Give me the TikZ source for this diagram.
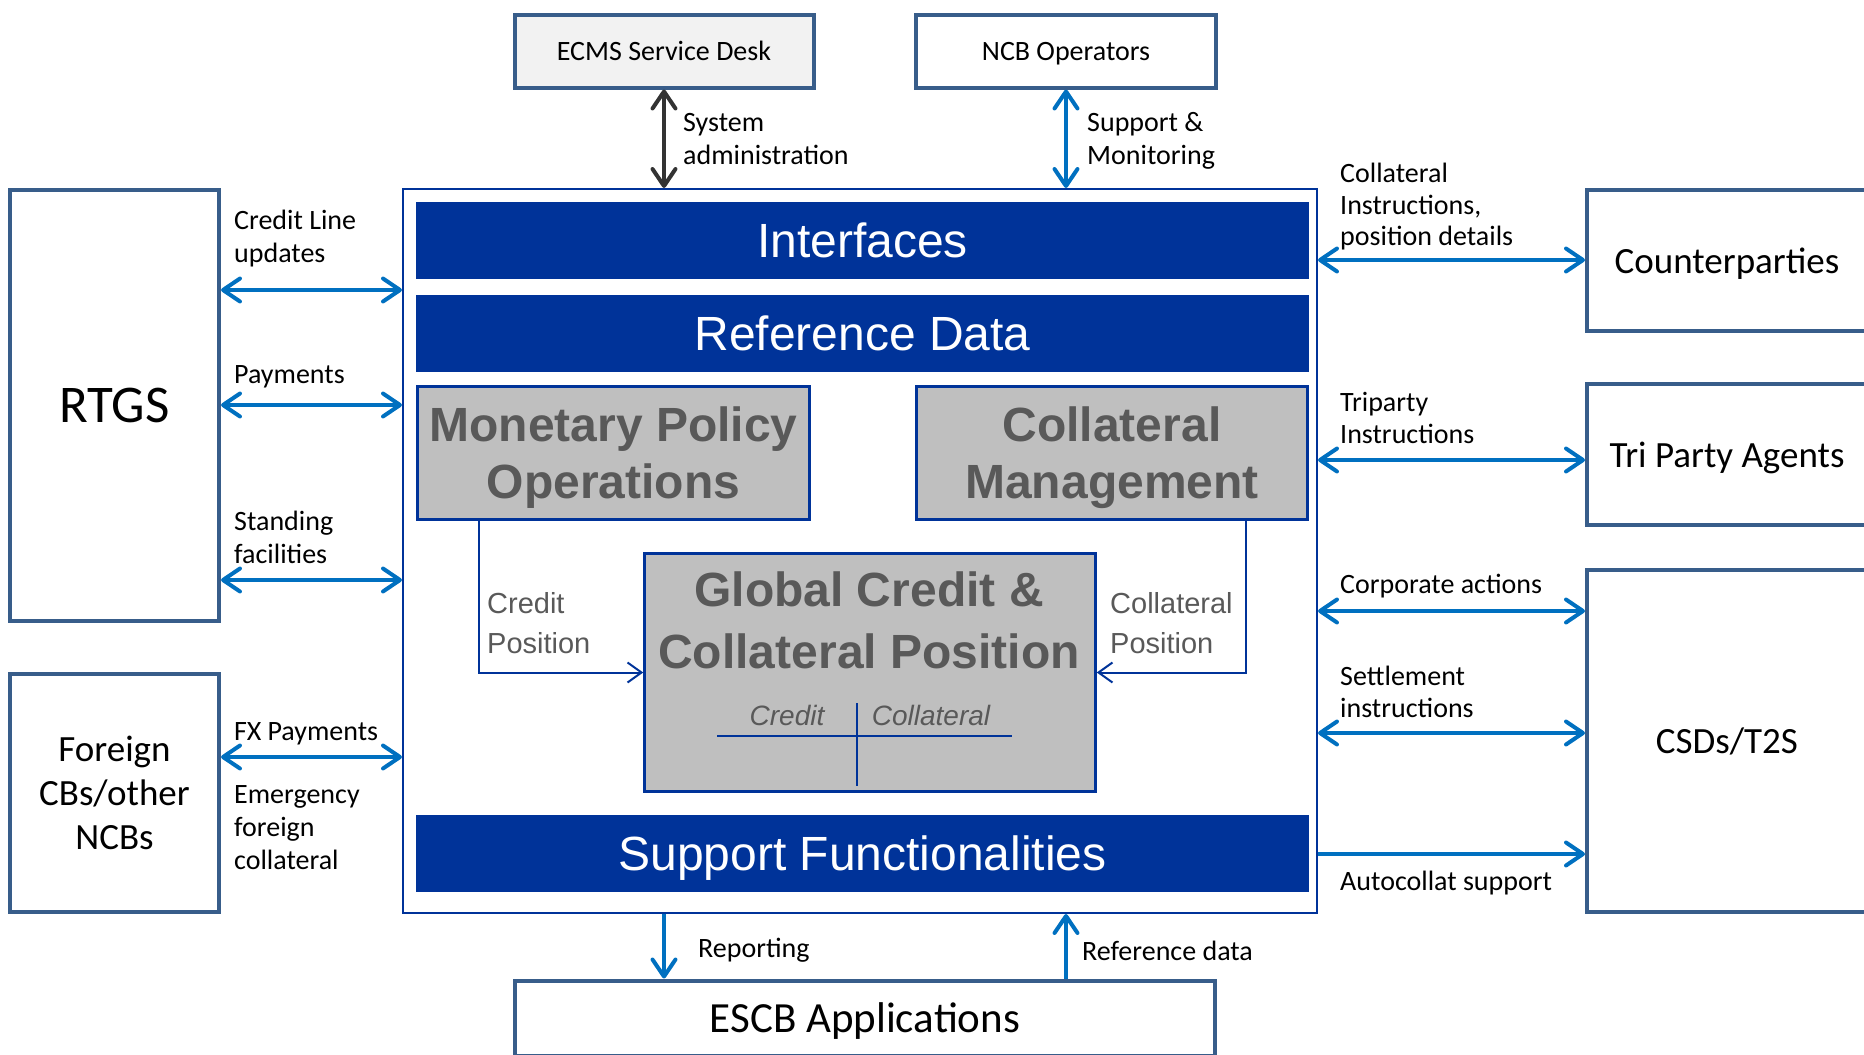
\documentclass[tikz,border=0pt]{standalone}
\usepackage{fontspec}
\setmainfont{Carlito}
\newfontfamily\arialfont{Liberation Sans}
\usetikzlibrary{arrows.meta}
\definecolor{navy}{RGB}{0,51,153}
\definecolor{steel}{RGB}{56,93,138}
\definecolor{linkblue}{RGB}{0,112,192}
\definecolor{greytext}{RGB}{89,89,89}
\definecolor{greyfill}{RGB}{191,191,191}

\begin{document}
\begin{tikzpicture}[x=1pt,y=-1pt,
    >={Straight Barb[length=17pt,width=23pt,round]},
    ext/.style={draw=steel,line width=4pt,fill=white,inner sep=0pt,text depth=0pt,align=center,font=\fontsize{37}{44}\selectfont},
    bar/.style={fill=navy,text=white,inner sep=0pt,text depth=0pt,minimum width=893pt,minimum height=77pt,font=\arialfont\fontsize{48}{56}\selectfont},
    module/.style={draw=navy,line width=2.5pt,fill=greyfill,text=greytext,inner sep=0pt,text depth=0pt,align=center,font=\arialfont\bfseries\fontsize{48}{57}\selectfont},
    flow/.style={linkblue,line width=4pt},
    posflow/.style={navy,line width=2pt,>={Straight Barb[length=14pt,width=20pt]}},
    lbl/.style={anchor=west,inner sep=0pt,align=left,font=\fontsize{28}{33}\selectfont},
    lblr/.style={lbl,font=\fontsize{28}{31.5}\selectfont},
    poslbl/.style={anchor=west,inner sep=0pt,align=left,text=greytext,font=\arialfont\fontsize{29}{40}\selectfont}]
  \useasboundingbox (0,0) rectangle (1864,1055);

  \node[ext,fill=black!5,minimum width=299pt,minimum height=73pt,font=\fontsize{28}{33}\selectfont] (ecms) at (664,51) {ECMS Service Desk};
  \node[ext,minimum width=300pt,minimum height=73pt,font=\fontsize{28}{33}\selectfont] (ncb) at (1066,51) {NCB Operators};
  \node[draw=navy,line width=2pt,minimum width=914pt,minimum height=724pt] (frame) at (860,551) {};
  \node[bar] (intf) at (862.5,240.5) {Interfaces};
  \node[bar] (refdata) at (862.5,333.5) {Reference Data};
  \node[module,minimum width=392pt,minimum height=133pt] (mpo) at (613.5,453) {Monetary Policy\\Operations};
  \node[module,minimum width=391pt,minimum height=133pt] (colmgmt) at (1112,453) {Collateral\\Management};
  \node[module,minimum width=451pt,minimum height=238pt] (gccp) at (870,672.5) {};
  \node[bar] (support) at (862.5,853.5) {Support Functionalities};

  \node[text=greytext,align=center,inner sep=0pt,font=\arialfont\bfseries\fontsize{48}{62}\selectfont] (gccptitle) at (869,620) {Global Credit \&\\Collateral Position};
  \node[text=greytext,inner sep=0pt,font=\arialfont\itshape\fontsize{28}{33}\selectfont] (crhead) at (787,715) {Credit};
  \node[text=greytext,inner sep=0pt,font=\arialfont\itshape\fontsize{28}{33}\selectfont] (colhead) at (931,715) {Collateral};
  \draw[navy,line width=2pt] (717,736) -- (1012,736) (857,703) -- (857,786);

  \node[ext,minimum width=209pt,minimum height=431pt,font=\fontsize{53}{60}\selectfont] (rtgs) at (114.5,405.5) {RTGS};
  \node[ext,minimum width=209pt,minimum height=238pt] (foreign) at (114.5,793) {Foreign\\CBs/other\\NCBs};
  \node[ext,minimum width=280pt,minimum height=141pt] (counter) at (1727,260.5) {Counterparties};
  \node[ext,minimum width=280pt,minimum height=141pt] (tripa) at (1727,454.5) {Tri Party Agents};
  \node[ext,minimum width=280pt,minimum height=342pt] (csds) at (1727,741) {CSDs/T2S};
  \node[ext,minimum width=700pt,minimum height=75pt,font=\fontsize{43}{50}\selectfont] (escb) at (865,1018) {ESCB Applications};

  \draw[flow,<->,black!80] (ecms.south) -- (ecms.south |- frame.north);
  \node[lbl] (sysadm) at (683,139) {System\\administration};
  \draw[flow,<->] (ncb.south) -- (ncb.south |- frame.north);
  \node[lbl] (supmon) at (1087,141) {Support \&\\Monitoring};

  \draw[flow,<->] (rtgs.east |- 0,290) -- (frame.west |- 0,290);
  \node[lbl] (clu) at (234,239) {Credit Line\\updates};
  \draw[flow,<->] (rtgs.east |- 0,405) -- (frame.west |- 0,405);
  \node[lbl] (paym) at (234,377) {Payments};
  \draw[flow,<->] (rtgs.east |- 0,580) -- (frame.west |- 0,580);
  \node[lbl] (stfac) at (234,537) {Standing\\facilities};
  \draw[flow,<->] (foreign.east |- 0,757) -- (frame.west |- 0,757);
  \node[lbl] (fxp) at (234,734) {FX Payments};
  \node[lbl] (emerg) at (234,828) {Emergency\\foreign\\collateral};

  \draw[flow,<->] (frame.east |- 0,260) -- (counter.west |- 0,260);
  \node[lblr] (colins) at (1340,207) {Collateral\\Instructions,\\position details};
  \draw[flow,<->] (frame.east |- 0,460) -- (tripa.west |- 0,460);
  \node[lblr] (tripins) at (1340,418) {Triparty\\Instructions};
  \draw[flow,<->] (frame.east |- 0,611) -- (csds.west |- 0,611);
  \node[lblr] (corpact) at (1340,586) {Corporate actions};
  \draw[flow,<->] (frame.east |- 0,733) -- (csds.west |- 0,733);
  \node[lblr] (settl) at (1340,692) {Settlement\\instructions};
  \draw[flow,->] (frame.east |- 0,854) -- (csds.west |- 0,854);
  \node[lblr] (autoc) at (1340,883) {Autocollat support};

  \draw[flow,->] (ecms.south |- frame.south) -- (ecms.south |- escb.north);
  \node[lbl] (report) at (698,950) {Reporting};
  \draw[flow,<-] (ncb.south |- frame.south) -- (ncb.south |- escb.north);
  \node[lbl] (refd) at (1082,951) {Reference data};

  \draw[posflow,->] (mpo.south -| 479,0) |- (gccp.west);
  \node[poslbl] (crpos) at (487,623) {Credit\\Position};
  \draw[posflow,->] (colmgmt.south -| 1246,0) |- (gccp.east);
  \node[poslbl] (colpos) at (1110,623) {Collateral\\Position};
\end{tikzpicture}
\end{document}
